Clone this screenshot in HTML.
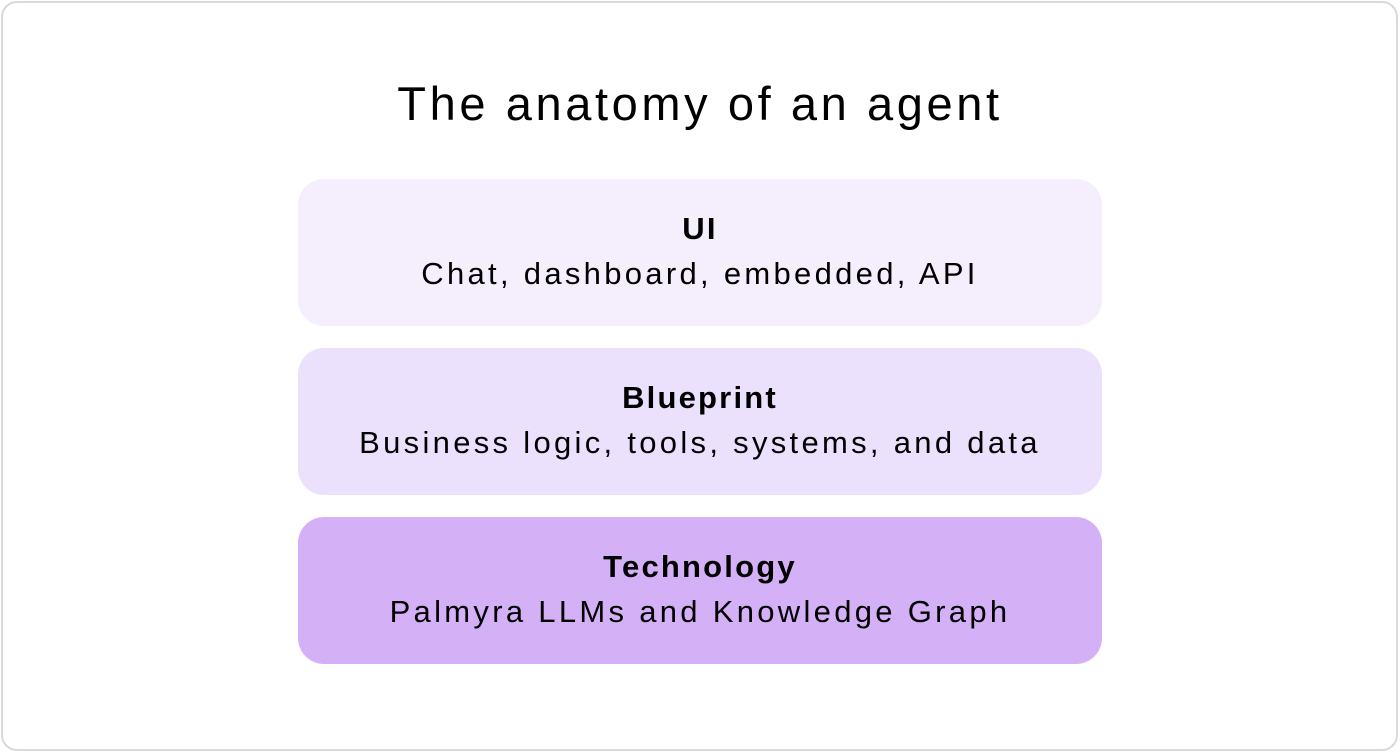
<!DOCTYPE html>
<html><head><style>
html,body{margin:0;padding:0;background:#fff;}
body{width:1400px;height:753px;position:relative;font-family:"Liberation Sans",sans-serif;color:#000;overflow:hidden;}
.frame{position:absolute;left:1px;top:1px;width:1397px;height:750px;border:2px solid #d9d9dc;border-radius:16px;box-sizing:border-box;}
.title{position:absolute;left:0;width:1400px;top:74px;text-align:center;font-size:47px;line-height:60px;letter-spacing:3.6px;}
.box{position:absolute;left:298px;width:804px;height:147px;border-radius:26px;text-align:center;}
.box b{position:absolute;left:0;right:0;top:30px;font-size:31px;line-height:40px;letter-spacing:2.2px;}
.box span{position:absolute;left:0;right:0;top:75px;font-size:31px;line-height:40px;letter-spacing:3.3px;}
</style></head><body>
<div class="frame"></div>
<div class="title">The anatomy of an agent</div>
<div class="box" style="top:179px;background:#f4eefd"><b>UI</b><span>Chat, dashboard, embedded, API</span></div>
<div class="box" style="top:348px;background:#ece1fd"><b>Blueprint</b><span>Business logic, tools, systems, and data</span></div>
<div class="box" style="top:517px;background:#d4b1f6"><b>Technology</b><span>Palmyra LLMs and Knowledge Graph</span></div>
</body></html>
